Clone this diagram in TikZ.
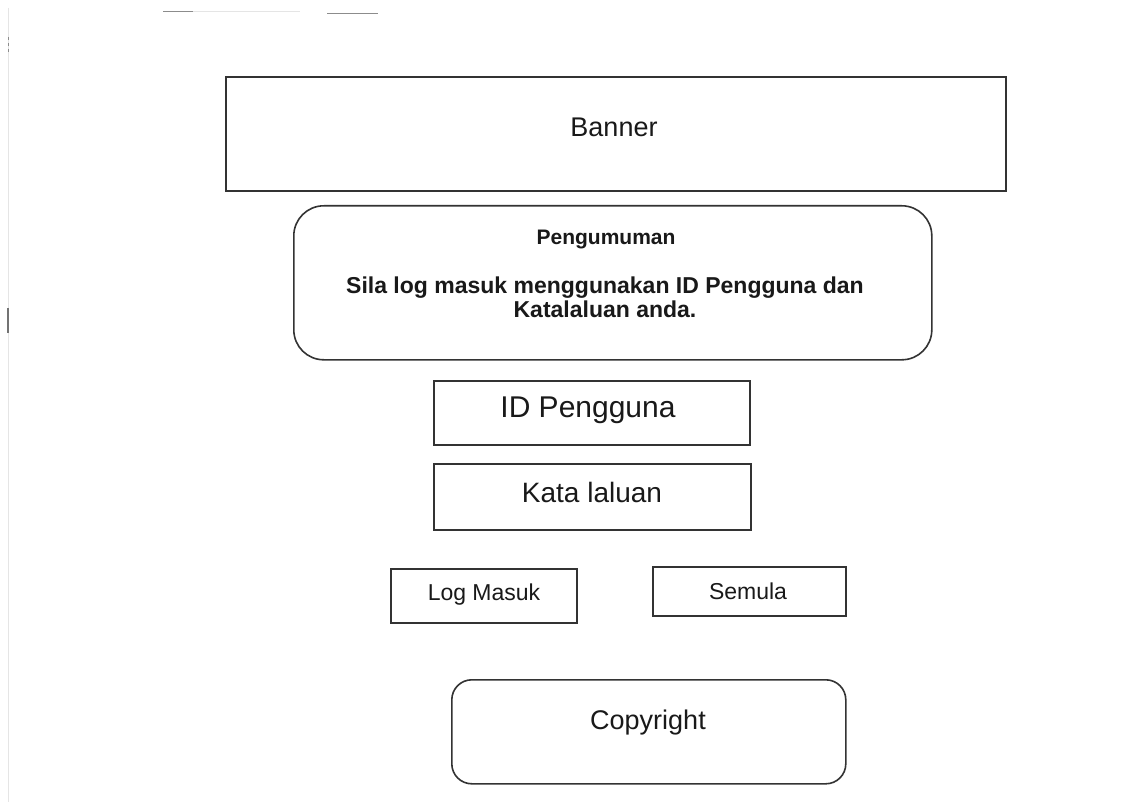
\documentclass[tikz,border=0pt]{standalone}
\usepackage{fontspec}
\setmainfont{Liberation Sans}
\begin{document}
\begin{tikzpicture}[x=1pt,y=-1pt,
  frame/.style={draw=black!80, line width=1.6pt, inner sep=0pt, anchor=north west},
  roundframe/.style={frame, rounded corners=#1},
  lbl/.style={inner sep=0pt, text=black!90},
  scanmark/.style={draw=black!45, line width=1pt}]
\useasboundingbox[fill=white] (0,0) rectangle (1127,802);

% faint marks along the page edges
\draw[scanmark] (163,12) -- (193,12);
\draw[draw=black!10, line width=1pt] (193,12) -- (300,12);
\draw[scanmark] (327,14) -- (378,14);
\draw[draw=black!10, line width=1pt] (8,8) -- (8,802);
\draw[scanmark, dash pattern=on 3pt off 3pt] (8,37) -- (8,52);
\draw[draw=black!55, line width=1.4pt] (8,308) -- (8,333);

% banner
\node[frame, minimum width=780pt, minimum height=114pt] (banner) at (225,76) {};
\node[lbl, font=\fontsize{27}{32}\selectfont] (bannertxt) at (614,127) {Banner};

% announcement panel
\node[roundframe=30pt, minimum width=638pt, minimum height=154pt] (notice) at (293,205) {};
\node[lbl, font=\bfseries\fontsize{21}{24}\selectfont] (noticehead) at (606,240) {Pengumuman};
\node[lbl, font=\bfseries\fontsize{23}{24}\selectfont, align=center] (noticebody) at (605,297)
  {Sila log masuk menggunakan ID Pengguna dan\\Katalaluan anda.};

% login fields
\node[frame, minimum width=316pt, minimum height=64pt] (userid) at (433,380) {};
\node[lbl, font=\fontsize{30}{34}\selectfont] (useridtxt) at (588,410) {ID Pengguna};
\node[frame, minimum width=317pt, minimum height=66pt] (passwd) at (433,463) {};
\node[lbl, font=\fontsize{28}{32}\selectfont] (passwdtxt) at (592,492) {Kata laluan};

% buttons
\node[frame, minimum width=186pt, minimum height=54pt] (login) at (390,568) {};
\node[lbl, font=\fontsize{23}{26}\selectfont] (logintxt) at (484,595) {Log Masuk};
\node[frame, minimum width=193pt, minimum height=49pt] (reset) at (652,566) {};
\node[lbl, font=\fontsize{23}{26}\selectfont] (resettxt) at (748,591) {Semula};

% footer
\node[roundframe=20pt, minimum width=394pt, minimum height=104pt] (footer) at (451,679) {};
\node[lbl, font=\fontsize{27}{30}\selectfont] (footertxt) at (648,723) {Copyright};
\end{tikzpicture}
\end{document}
